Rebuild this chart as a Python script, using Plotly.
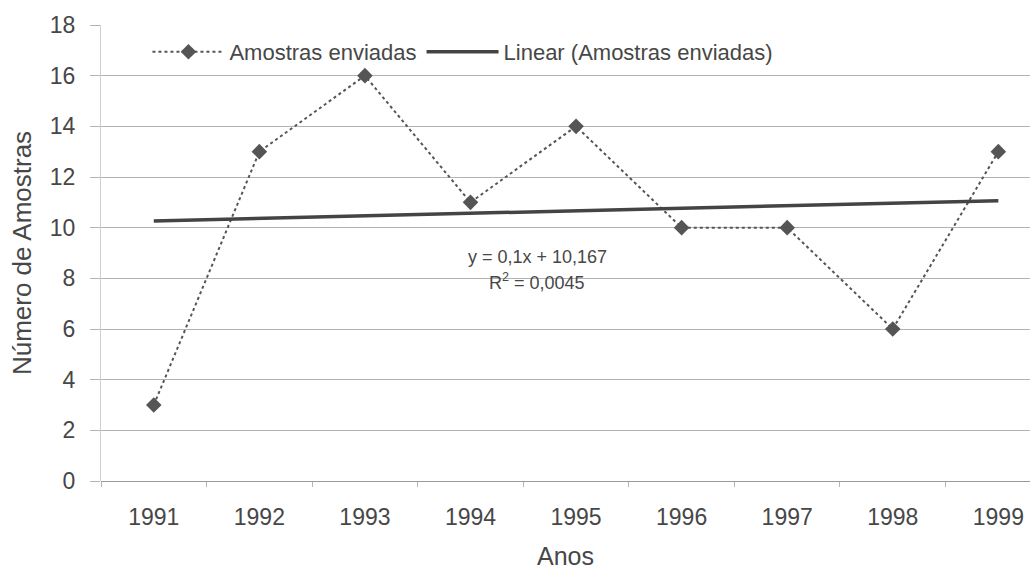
import plotly.graph_objects as go

anos = ["1991", "1992", "1993", "1994", "1995", "1996", "1997", "1998", "1999"]
amostras = [3, 13, 16, 11, 14, 10, 10, 6, 13]
slope = 0.1
intercept = 10.167
r2 = "0,0045"
y_ticks = [0, 2, 4, 6, 8, 10, 12, 14, 16, 18]

# linear trend evaluated at x = 1..9 (Excel-style index)
trend = [slope * (i + 1) + intercept for i in range(len(anos))]

FONT = "Liberation Sans, Arial, sans-serif"
INK = "#474747"

fig = go.Figure()
fig.add_trace(go.Scatter(
    x=anos, y=amostras, mode="lines+markers", name="Amostras enviadas",
    line=dict(color="#555555", width=2, dash="dot"),
    marker=dict(symbol="diamond", size=12, color="#555555"),
))
fig.add_trace(go.Scatter(
    x=anos, y=trend, mode="lines", name="Linear (Amostras enviadas)",
    line=dict(color="#444444", width=3.5),
))

eq_font = dict(family=FONT, size=18, color=INK)
fig.add_annotation(x=3.63, y=8.84, xref="x", yref="y", showarrow=False,
                   text="y = 0,1x + 10,167", font=eq_font)
fig.add_annotation(x=3.63, y=7.86, xref="x", yref="y", showarrow=False,
                   text="R<sup>2</sup> = " + r2, font=eq_font)

fig.update_layout(
    width=1030, height=570,
    margin=dict(l=101, r=0, t=25, b=89),
    paper_bgcolor="white", plot_bgcolor="white",
    font=dict(family=FONT, color=INK),
    showlegend=True,
    legend=dict(
        orientation="h", x=0.05, y=0.941, xanchor="left", yanchor="middle",
        font=dict(size=22, color=INK), bgcolor="rgba(0,0,0,0)",
        itemwidth=72, tracegroupgap=0,
    ),
    xaxis=dict(
        type="category", range=[-0.5, 8.3],
        tickson="boundaries", ticks="outside", ticklen=5, tickcolor="#b5b5b5",
        showgrid=False, showline=False, zeroline=False,
        tickfont=dict(size=23, color=INK), ticklabelstandoff=20,
        title=dict(text="Anos", font=dict(size=25, color=INK), standoff=22),
    ),
    yaxis=dict(
        range=[0, 18], tickvals=y_ticks,
        showgrid=True, gridcolor="#b3b3b3", gridwidth=1,
        showline=True, linecolor="#cfcfcf", linewidth=1,
        zeroline=True, zerolinecolor="#9a9a9a", zerolinewidth=1,
        ticks="outside", ticklen=10, tickcolor="#b3b3b3",
        tickfont=dict(size=23, color=INK), ticklabelstandoff=10,
        title=dict(text="Número de Amostras", font=dict(size=26, color=INK), standoff=10),
    ),
)

fig.write_html("out.html")
